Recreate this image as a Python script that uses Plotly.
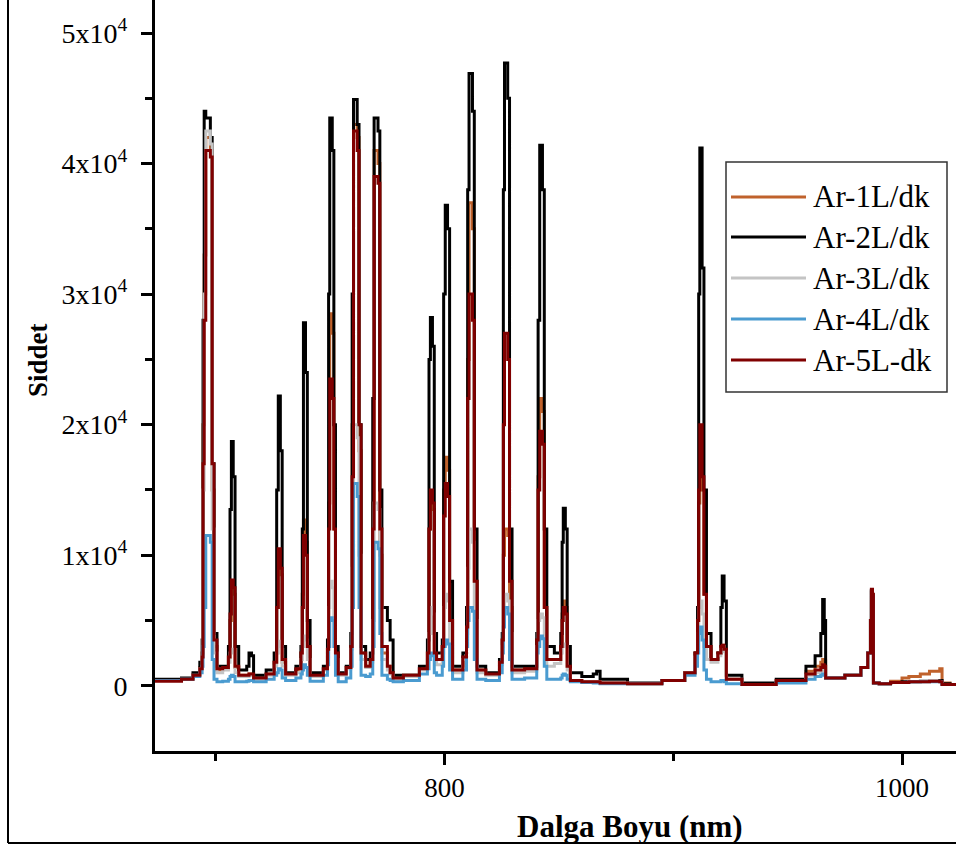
import plotly.graph_objects as go

# wavelength grid (nm) shared by all five spectra
wavelength = [
    673, 685, 690, 693, 694.0, 694.4, 694.9, 695.6, 697.6, 698.4, 699.2, 700.5,
    703, 705.5, 706.2, 706.8, 707.6, 708.4, 710, 713.5, 714.5, 715.6, 716.5,
    722, 725.5, 726.6, 727.3, 728.2, 729, 730.5, 735, 737.2, 737.8, 738.3, 739.2,
    740, 741.2, 747, 748.8, 749.3, 749.8, 750.9, 751.6, 752.3, 753.5, 757, 759,
    759.6, 760.2, 761.8, 762.6, 763.5, 765.5, 767.5, 768.6, 769.2, 770.9, 771.7,
    772.6, 775, 776.2, 777.5, 782, 789, 792.5, 793.2, 793.8, 794.7, 795.5, 796.5,
    799, 799.6, 800.3, 801.3, 802.2, 803.5, 808, 809.6, 810.1, 810.7, 812.2, 813,
    814.2, 818, 824, 825.2, 825.7, 826.2, 827.6, 828.4, 829.5, 835, 840.3, 840.9,
    841.6, 842.8, 843.6, 844.7, 848, 850.8, 851.4, 851.9, 852.8, 853.6, 855, 860,
    865, 866.5, 868, 880, 895, 905, 909.5, 910.6, 911.1, 911.6, 912.6, 913.4,
    914.5, 916.5, 919.5, 920.8, 921.4, 922.2, 923.2, 930, 945, 958, 962, 964.5,
    965.3, 966.0, 966.6, 975, 982, 985, 986.2, 986.6, 987.1, 987.5, 990, 995,
    1000, 1003, 1008, 1012, 1016.5, 1017.5, 1021, 1025,
]

ar_1 = [
    400, 500, 850, 1400, 2500, 20000, 33000, 42000, 41000, 15000, 3000, 1200,
    1300, 2200, 5000, 7500, 7000, 1400, 800, 800, 900, 850, 600,
    900, 1800, 6000, 10000, 8500, 1800, 900, 1200, 2500, 7000, 12700, 11000,
    3000, 800, 1300, 2800, 14000, 28500, 27000, 12000, 2500, 900, 1400, 3000,
    20000, 43000, 42000, 18000, 2500, 1500, 2000, 14000, 41000, 40000, 10000,
    2500, 1500, 1000, 600, 800, 1300, 2500, 12000, 14500, 13500, 2500, 2000,
    3000, 15000, 17500, 16500, 5000, 1200, 2200, 4500, 25000, 37000, 35000, 8000,
    1200, 900, 1800, 3500, 10000, 12000, 11500, 6000, 1200, 1300, 3500, 16000,
    22000, 21000, 6000, 2000, 2000, 3000, 5500, 6500, 6000, 1500, 400, 300,
    300, 300, 200, 150, 400, 1000, 2500, 5000, 14000, 19000, 15000, 7000,
    3000, 2000, 2500, 3000, 3100, 2800, 500, 100, 400, 1100, 1500, 1800,
    2000, 1900, 600, 800, 1400, 2500, 5000, 7300, 6900, 200, 150, 350,
    600, 700, 900, 1100, 1300, 200, 100, 100,
]

ar_2 = [
    500, 600, 1000, 1800, 3500, 28000, 44000, 43500, 42000, 17000, 4000, 1500,
    1500, 3000, 13500, 18700, 16000, 3000, 1200, 1500, 2500, 2300, 800,
    1200, 2500, 15000, 22200, 18000, 3000, 1000, 1500, 3000, 12000, 27800, 24000,
    5000, 1000, 1500, 3500, 30000, 43500, 41000, 20000, 3000, 1000, 1500, 4000,
    30000, 44900, 43000, 20000, 3000, 2000, 2500, 22000, 43500, 42500, 15000,
    6000, 5000, 3500, 800, 800, 1500, 3500, 25000, 28200, 26000, 4000, 2500,
    3500, 30000, 36800, 35000, 8000, 1500, 2500, 6000, 38000, 46900, 44000, 12000,
    1500, 1000, 2000, 4000, 38000, 47700, 45000, 12000, 1500, 1500, 4000, 28000,
    41400, 38000, 12000, 3000, 2500, 4000, 11000, 13600, 12000, 3000, 1000, 700,
    900, 1100, 500, 200, 400, 1000, 2500, 6000, 30000, 41200, 32000, 15000,
    4000, 2000, 2500, 6000, 8400, 6500, 800, 200, 500, 1500, 2300, 4000,
    6600, 5000, 600, 800, 1400, 2500, 5000, 7200, 6800, 200, 150, 250,
    300, 300, 350, 350, 400, 150, 100, 100,
]

ar_3 = [
    400, 500, 800, 1300, 2200, 15000, 30000, 42500, 41500, 12000, 2500, 1000,
    1200, 1800, 2500, 2800, 2500, 1000, 700, 700, 800, 800, 500,
    800, 1500, 2500, 3400, 3000, 1500, 800, 1000, 2000, 3000, 3800, 3500,
    2000, 700, 1200, 2200, 6000, 8000, 7500, 5000, 2000, 800, 1300, 2800,
    9000, 20000, 19000, 10000, 2000, 1400, 1800, 5000, 14000, 13500, 6000,
    2000, 1200, 900, 500, 700, 1200, 2000, 4000, 6000, 5500, 2000, 1600,
    2500, 6000, 7000, 6500, 3000, 1000, 2000, 4000, 9000, 12000, 11000, 5000,
    1000, 800, 1600, 3000, 6000, 7000, 6500, 4000, 1000, 1100, 3000, 5000,
    5500, 5200, 3000, 1500, 1700, 2500, 3000, 3200, 3000, 1200, 400, 300,
    300, 300, 200, 150, 400, 1000, 2200, 4000, 6000, 6500, 5500, 3000,
    2000, 1800, 2300, 2800, 3000, 2600, 500, 100, 400, 800, 1000, 1100,
    1200, 1100, 600, 800, 1400, 2500, 5000, 7300, 6900, 200, 150, 250,
    250, 300, 300, 350, 300, 100, 100, 100,
]

ar_4 = [
    400, 500, 700, 1000, 1500, 3000, 6000, 11500, 11000, 2000, 500, 300,
    350, 500, 700, 800, 700, 300, 300, 350, 400, 400, 300,
    500, 800, 1000, 1300, 1200, 600, 400, 600, 900, 1200, 1600, 1400,
    800, 350, 800, 1600, 3000, 5200, 5000, 3000, 800, 300, 600, 1500,
    6000, 15500, 14500, 6000, 800, 700, 900, 3000, 11000, 10500, 4000,
    800, 500, 400, 300, 400, 900, 1300, 2000, 2500, 2300, 1000, 800,
    1500, 3000, 3500, 3200, 1200, 500, 1200, 3000, 5000, 6000, 5700, 2000,
    500, 400, 1000, 2500, 4500, 6000, 5500, 2000, 500, 600, 2500, 3000,
    3800, 3600, 1500, 500, 500, 600, 800, 900, 800, 500, 300, 250,
    200, 200, 150, 150, 400, 800, 1500, 2500, 4000, 4500, 3500, 1200,
    500, 300, 300, 400, 400, 300, 150, 100, 200, 500, 700, 800,
    900, 800, 600, 800, 1400, 2500, 5000, 7300, 6900, 200, 150, 250,
    250, 300, 300, 300, 300, 100, 100, 100,
]

ar_5 = [
    350, 500, 800, 1300, 2200, 17000, 28000, 41000, 40500, 17000, 3500, 1300,
    1400, 2200, 5500, 8100, 7500, 1500, 800, 800, 900, 900, 600,
    900, 1800, 6000, 10500, 9000, 2000, 900, 1300, 2500, 6000, 11500, 10000,
    3000, 800, 1300, 2800, 12000, 23500, 22000, 12000, 2500, 900, 1400, 3000,
    16000, 42500, 41000, 20000, 2500, 1500, 2000, 12000, 39000, 38500, 12000,
    3000, 1500, 1000, 600, 800, 1300, 2500, 12000, 15000, 14000, 2500, 2000,
    3000, 13000, 15500, 14500, 5000, 1200, 2200, 4500, 22000, 30000, 28000, 8000,
    1200, 900, 1800, 3500, 20000, 27000, 25000, 8000, 1200, 1300, 3500, 15000,
    19500, 18500, 6000, 2000, 2000, 3000, 5000, 6000, 5500, 1500, 400, 300,
    300, 300, 200, 150, 400, 1000, 2500, 5000, 15000, 20000, 16000, 7000,
    3000, 2000, 2500, 3000, 3100, 2800, 500, 100, 400, 900, 1200, 1400,
    1600, 1500, 600, 800, 1400, 2500, 5000, 7400, 7000, 200, 150, 250,
    250, 300, 300, 350, 300, 100, 100, 100,
]

series_names = ["Ar-1L/dk", "Ar-2L/dk", "Ar-3L/dk", "Ar-4L/dk", "Ar-5L-dk"]
series_values = [ar_1, ar_2, ar_3, ar_4, ar_5]
series_colors = ["#C0622C", "#000000", "#C4C4C4", "#4A9BD0", "#800000"]

y_tickvals = [0, 10000, 20000, 30000, 40000, 50000]
y_ticktext = ["0", "1x10<sup>4</sup>", "2x10<sup>4</sup>", "3x10<sup>4</sup>",
              "4x10<sup>4</sup>", "5x10<sup>4</sup>"]
y_minor = [5000, 15000, 25000, 35000, 45000]
x_tickvals = [800, 1000]
x_minor = [700, 900]

serif = "Liberation Serif, Times New Roman, serif"

# plot area in page pixels: x 155..956, y 0..751
L, R, T, B = 155, 956, 0, 751


def px(x):
    return (x - L) / (R - L)


def py(y):
    return 1 - (y - T) / (B - T)


fig = go.Figure()
for name, vals, col in zip(series_names, series_values, series_colors):
    assert len(vals) == len(wavelength), name
    fig.add_trace(go.Scatter(x=wavelength, y=vals, mode="lines", name=name,
                             line=dict(color=col, width=3, shape="hv")))

fig.update_layout(
    width=956, height=847,
    margin=dict(l=L, r=956 - R, t=T, b=847 - B),
    plot_bgcolor="white",
    paper_bgcolor="white",
    font=dict(family=serif, color="black"),
    showlegend=False,
)

fig.update_xaxes(
    range=[673.4, 1023.6], showgrid=False, zeroline=False,
    showline=True, linecolor="black", linewidth=3,
    tickmode="array", tickvals=x_tickvals,
    ticks="outside", ticklen=11, tickwidth=3, tickcolor="black",
    tickfont=dict(family=serif, size=27, color="black"),
    minor=dict(tickvals=x_minor, ticks="outside", ticklen=7, tickwidth=3,
               tickcolor="black", showgrid=False),
)
fig.update_yaxes(
    range=[-5000, 52530], showgrid=False, zeroline=False,
    showline=True, linecolor="black", linewidth=3,
    tickmode="array", tickvals=y_tickvals, ticktext=y_ticktext,
    ticks="outside", ticklen=11, tickwidth=3, tickcolor="black",
    tickfont=dict(family=serif, size=28, color="black"),
    ticklabelstandoff=8,
    minor=dict(tickvals=y_minor, ticks="outside", ticklen=7, tickwidth=3,
               tickcolor="black", showgrid=False),
)

# axis titles
fig.add_annotation(text="<b>Dalga Boyu (nm)</b>", xref="paper", yref="paper",
                   x=px(630), y=py(826), xanchor="center", yanchor="middle",
                   showarrow=False, font=dict(family=serif, size=31, color="black"))
fig.add_annotation(text="<b>Siddet</b>", xref="paper", yref="paper",
                   x=px(38), y=py(360), xanchor="center", yanchor="middle", textangle=-90,
                   showarrow=False, font=dict(family=serif, size=27, color="black"))

# legend box drawn by hand so the line samples are as long as in the original
fig.add_shape(type="rect", xref="paper", yref="paper",
              x0=px(726), x1=px(947), y0=py(392), y1=py(162),
              line=dict(color="#333333", width=1.5), fillcolor="white", layer="above")
legend_rows = [197, 237, 278, 319, 360]
for name, col, row in zip(series_names, series_colors, legend_rows):
    fig.add_shape(type="line", xref="paper", yref="paper",
                  x0=px(731), x1=px(806), y0=py(row), y1=py(row),
                  line=dict(color=col, width=3), layer="above")
    fig.add_annotation(text=name, xref="paper", yref="paper",
                       x=px(811), y=py(row), xanchor="left", yanchor="middle",
                       showarrow=False, font=dict(family=serif, size=31, color="black"))

# outer frame of the picture
fig.add_shape(type="line", xref="paper", yref="paper", x0=px(8), x1=px(8),
              y0=py(843), y1=py(0), line=dict(color="black", width=2))
fig.add_shape(type="line", xref="paper", yref="paper", x0=px(8), x1=px(956),
              y0=py(843), y1=py(843), line=dict(color="black", width=2))

fig.write_html("out.html", config={"displayModeBar": False},
               post_script="document.body.style.margin = '0';")
